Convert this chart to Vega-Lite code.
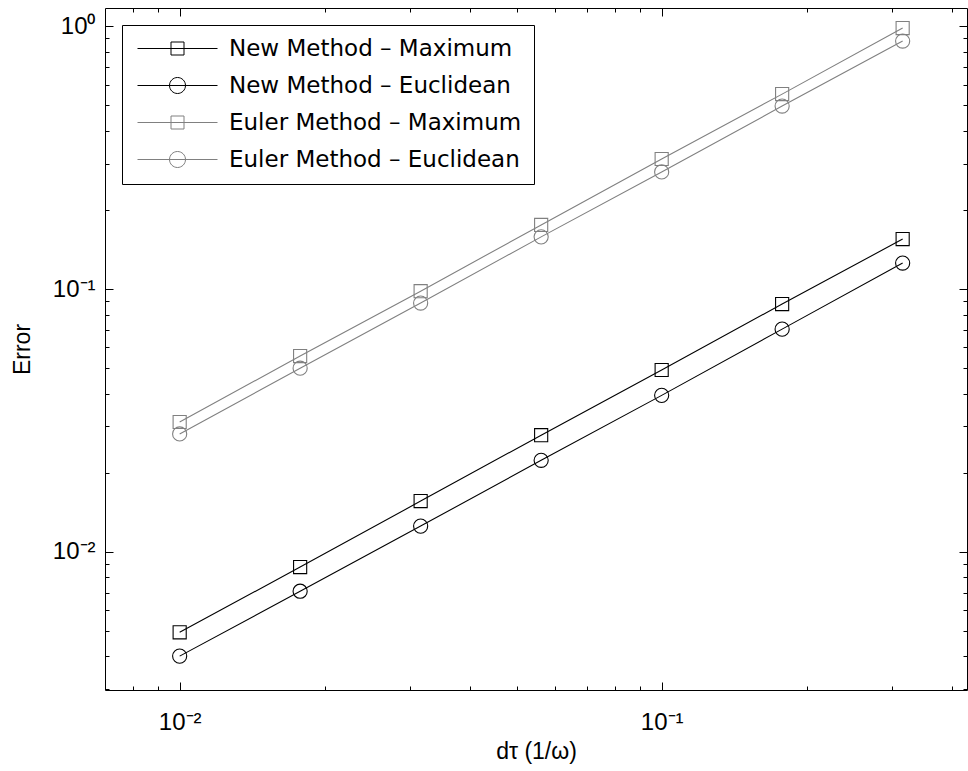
{
  "$schema": "https://vega.github.io/schema/vega-lite/v6.json",
  "autosize": {"type": "none"},
  "width": 862,
  "height": 682,
  "padding": {"left": 105, "top": 8, "right": 1, "bottom": 81},
  "background": "white",
  "data": {
    "values": [
      {"dt": 0.01, "err": 0.00494, "series": "New Method – Maximum", "norm": "Maximum"},
      {"dt": 0.01778, "err": 0.00875, "series": "New Method – Maximum", "norm": "Maximum"},
      {"dt": 0.03162, "err": 0.0156, "series": "New Method – Maximum", "norm": "Maximum"},
      {"dt": 0.05623, "err": 0.0278, "series": "New Method – Maximum", "norm": "Maximum"},
      {"dt": 0.1, "err": 0.0492, "series": "New Method – Maximum", "norm": "Maximum"},
      {"dt": 0.1778, "err": 0.0877, "series": "New Method – Maximum", "norm": "Maximum"},
      {"dt": 0.3162, "err": 0.155, "series": "New Method – Maximum", "norm": "Maximum"},
      {"dt": 0.01, "err": 0.00401, "series": "New Method – Euclidean", "norm": "Euclidean"},
      {"dt": 0.01778, "err": 0.00708, "series": "New Method – Euclidean", "norm": "Euclidean"},
      {"dt": 0.03162, "err": 0.01253, "series": "New Method – Euclidean", "norm": "Euclidean"},
      {"dt": 0.05623, "err": 0.0223, "series": "New Method – Euclidean", "norm": "Euclidean"},
      {"dt": 0.1, "err": 0.0394, "series": "New Method – Euclidean", "norm": "Euclidean"},
      {"dt": 0.1778, "err": 0.0704, "series": "New Method – Euclidean", "norm": "Euclidean"},
      {"dt": 0.3162, "err": 0.1256, "series": "New Method – Euclidean", "norm": "Euclidean"},
      {"dt": 0.01, "err": 0.0312, "series": "Euler Method – Maximum", "norm": "Maximum"},
      {"dt": 0.01778, "err": 0.0556, "series": "Euler Method – Maximum", "norm": "Maximum"},
      {"dt": 0.03162, "err": 0.0982, "series": "Euler Method – Maximum", "norm": "Maximum"},
      {"dt": 0.05623, "err": 0.1754, "series": "Euler Method – Maximum", "norm": "Maximum"},
      {"dt": 0.1, "err": 0.3126, "series": "Euler Method – Maximum", "norm": "Maximum"},
      {"dt": 0.1778, "err": 0.552, "series": "Euler Method – Maximum", "norm": "Maximum"},
      {"dt": 0.3162, "err": 0.985, "series": "Euler Method – Maximum", "norm": "Maximum"},
      {"dt": 0.01, "err": 0.0281, "series": "Euler Method – Euclidean", "norm": "Euclidean"},
      {"dt": 0.01778, "err": 0.05, "series": "Euler Method – Euclidean", "norm": "Euclidean"},
      {"dt": 0.03162, "err": 0.0885, "series": "Euler Method – Euclidean", "norm": "Euclidean"},
      {"dt": 0.05623, "err": 0.158, "series": "Euler Method – Euclidean", "norm": "Euclidean"},
      {"dt": 0.1, "err": 0.279, "series": "Euler Method – Euclidean", "norm": "Euclidean"},
      {"dt": 0.1778, "err": 0.497, "series": "Euler Method – Euclidean", "norm": "Euclidean"},
      {"dt": 0.3162, "err": 0.879, "series": "Euler Method – Euclidean", "norm": "Euclidean"}
    ]
  },
  "layer": [
    {
      "mark": {"type": "line", "strokeWidth": 1.1},
      "encoding": {
        "x": {
          "field": "dt", "type": "quantitative",
          "scale": {"type": "log", "domain": [0.007, 0.43], "nice": false},
          "axis": {
            "orient": "bottom",
            "title": "dτ (1/ω)",
            "values": [0.008, 0.009, 0.01, 0.02, 0.03, 0.04, 0.05, 0.06, 0.07, 0.08, 0.09, 0.1, 0.2, 0.3, 0.4],
            "labelExpr": "datum.value==0.01 ? '10⁻²' : datum.value==0.1 ? '10⁻¹' : ''",
            "tickSize": {"condition": {"test": "datum.value==0.01 || datum.value==0.1", "value": -8}, "value": -4},
            "labelPadding": 28,
            "titlePadding": 2,
            "labelOverlap": false,
            "labelFlush": false
          }
        },
        "y": {
          "field": "err", "type": "quantitative",
          "scale": {"type": "log", "domain": [0.00298, 1.174], "nice": false},
          "axis": {
            "orient": "left",
            "title": "Error",
            "values": [0.003, 0.004, 0.005, 0.006, 0.007, 0.008, 0.009, 0.01, 0.02, 0.03, 0.04, 0.05, 0.06, 0.07, 0.08, 0.09, 0.1, 0.2, 0.3, 0.4, 0.5, 0.6, 0.7, 0.8, 0.9, 1],
            "labelExpr": "datum.value==0.01 ? '10⁻²' : datum.value==0.1 ? '10⁻¹' : datum.value==1 ? '10⁰' : ''",
            "tickSize": {"condition": {"test": "datum.value==0.01 || datum.value==0.1 || datum.value==1", "value": -8}, "value": -4},
            "labelPadding": 18,
            "titlePadding": 18,
            "labelOverlap": false,
            "labelFlush": false
          }
        },
        "color": {
          "field": "series", "type": "nominal",
          "scale": {
            "domain": ["New Method – Maximum", "New Method – Euclidean", "Euler Method – Maximum", "Euler Method – Euclidean"],
            "range": ["#000000", "#000000", "#808080", "#808080"]
          },
          "legend": {
            "orient": "none",
            "legendX": 17,
            "legendY": 17,
            "title": null,
            "padding": 12,
            "strokeColor": "black",
            "fillColor": "white",
            "labelFont": "DejaVu Sans",
            "labelFontSize": 23,
            "labelColor": "black",
            "labelLimit": 0,
            "symbolSize": 100,
            "symbolOffset": 32,
            "labelOffset": 40,
            "rowPadding": 13,
            "symbolStrokeWidth": 1,
            "encode": {
              "symbols": {
                "update": {
                  "shape": {"signal": "indexof(datum.value, 'Maximum') >= 0 ? 'M-8,0H8M-1.3,-1.3H1.3V1.3H-1.3Z' : 'M-8,0H8M-1.6,0A1.6,1.6,0,1,1,1.6,0A1.6,1.6,0,1,1,-1.6,0Z'"},
                  "fill": {"value": "transparent"},
                  "strokeWidth": {"value": 1}
                }
              }
            }
          }
        }
      }
    },
    {
      "transform": [{"filter": "datum.norm == 'Maximum'"}],
      "mark": {"type": "point", "shape": "square", "filled": false, "size": 172, "strokeWidth": 1.1, "opacity": 1},
      "encoding": {
        "x": {
          "field": "dt", "type": "quantitative",
          "axis": {
            "orient": "top",
            "title": null,
            "labels": false,
            "values": [0.008, 0.009, 0.01, 0.02, 0.03, 0.04, 0.05, 0.06, 0.07, 0.08, 0.09, 0.1, 0.2, 0.3, 0.4],
            "tickSize": {"condition": {"test": "datum.value==0.01 || datum.value==0.1", "value": -8}, "value": -4}
          }
        },
        "y": {
          "field": "err", "type": "quantitative",
          "axis": {
            "orient": "right",
            "title": null,
            "labels": false,
            "values": [0.003, 0.004, 0.005, 0.006, 0.007, 0.008, 0.009, 0.01, 0.02, 0.03, 0.04, 0.05, 0.06, 0.07, 0.08, 0.09, 0.1, 0.2, 0.3, 0.4, 0.5, 0.6, 0.7, 0.8, 0.9, 1],
            "tickSize": {"condition": {"test": "datum.value==0.01 || datum.value==0.1 || datum.value==1", "value": -8}, "value": -4}
          }
        },
        "color": {"field": "series", "type": "nominal", "legend": null}
      }
    },
    {
      "transform": [{"filter": "datum.norm == 'Euclidean'"}],
      "mark": {"type": "point", "shape": "circle", "filled": false, "size": 200, "strokeWidth": 1.1, "opacity": 1},
      "encoding": {
        "x": {"field": "dt", "type": "quantitative", "axis": null},
        "y": {"field": "err", "type": "quantitative", "axis": null},
        "color": {"field": "series", "type": "nominal", "legend": null}
      }
    }
  ],
  "resolve": {"axis": {"x": "independent", "y": "independent"}},
  "config": {
    "font": "Liberation Sans",
    "view": {"stroke": "black", "strokeWidth": 1},
    "axis": {
      "domain": false,
      "grid": false,
      "labelFont": "Liberation Sans",
      "labelFontSize": 24,
      "labelColor": "black",
      "titleFont": "Liberation Sans",
      "titleFontSize": 23,
      "titleFontWeight": "normal",
      "titleColor": "black",
      "tickColor": "black",
      "tickWidth": 1
    }
  }
}
